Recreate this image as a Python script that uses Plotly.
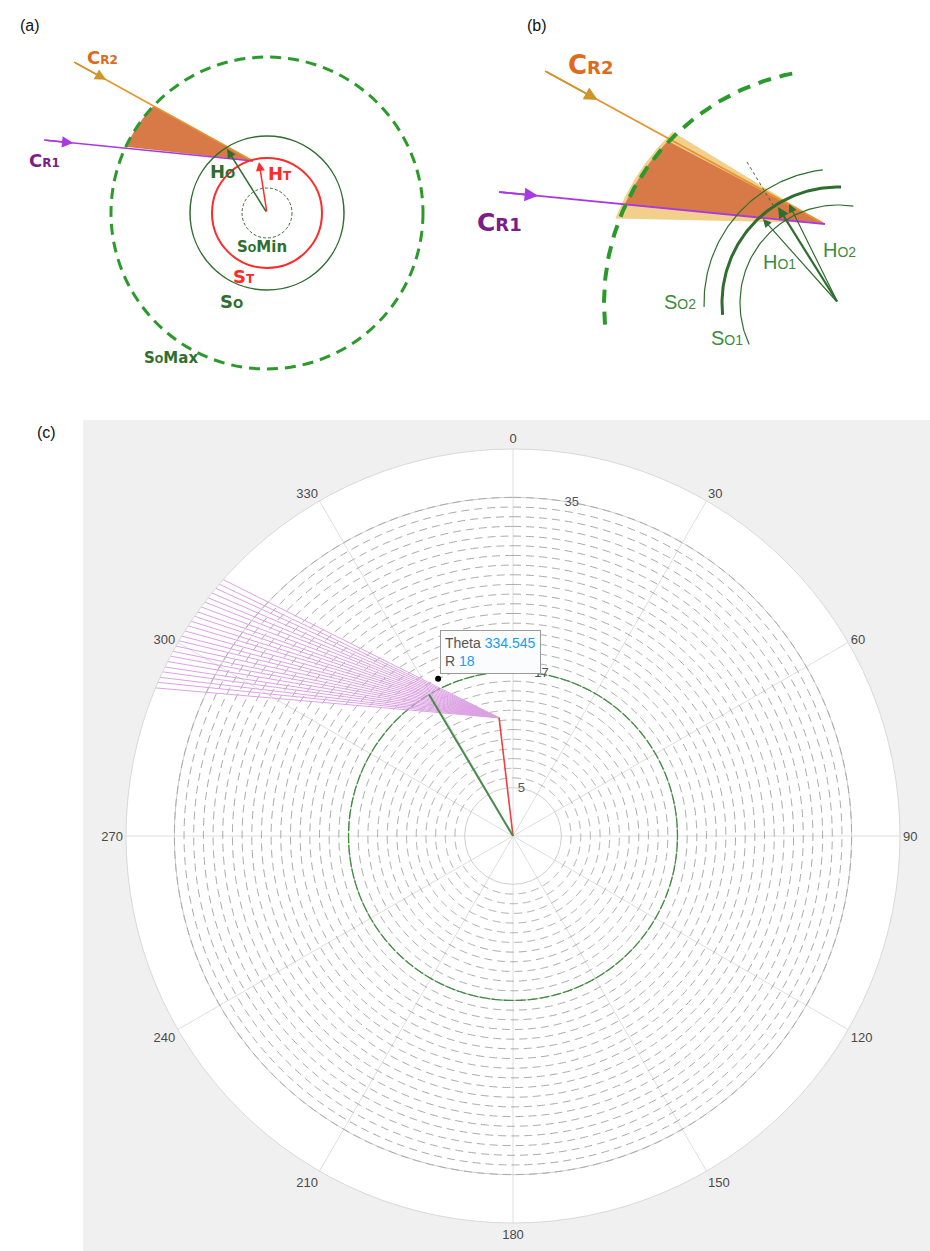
import numpy as np
import plotly.graph_objects as go

W, H = 930, 1251
FONT = "Liberation Sans"
DV = "DejaVu Sans"

# ---------------- panel (c) data ----------------
theta_ticks = [0, 30, 60, 90, 120, 150, 180, 210, 240, 270, 300, 330]
theta_labels = ["0", "30", "60", "90", "120", "150", "180", "210", "240", "270", "300", "330"]
r_ticks = [5, 17, 35]
r_tick_labels = ["5", "17", "35"]
r_label_theta = 10
r_max = 40
so_radii = [6, 7, 8, 9, 10, 11, 12, 13, 14, 15, 16, 17, 18, 19, 20, 21, 22, 23, 24, 25,
            26, 27, 28, 29, 30, 31, 32, 33, 34, 35]
so_selected = 17
ht_r, ht_theta = 12.3, 353.3
ho_r, ho_theta = 17.0, 329.3
tip_r, tip_theta = 18, 334.545
fan_end_theta = [292.5, 293.4, 294.2, 295.1, 295.9, 296.8, 297.7, 298.5, 299.4, 300.3,
                 301.1, 302.0, 302.9, 303.7, 304.6, 305.4, 306.3, 307.2, 308.0, 308.9,
                 309.8, 310.6, 311.5]

# ---------------- panel (a) data (pixel space) ----------------
a_center = [267, 213]
a_r_somax, a_r_so, a_r_st, a_r_somin = 156, 77, 55, 25
a_apex = [253, 161]
a_cr1_start = [44, 140]
a_cr2_start = [74, 62]
a_wedge_angles = [223.7, 205.1]     # screen angles on SoMax
a_ht_end = [259, 162]
a_ho_end = [227, 149]

# ---------------- panel (b) data (pixel space) ----------------
b_center = [838, 303]
b_r_somax = 234
b_somax_angles = [174.7, 260.3]
b_arcs = [[134, 178.3, 263.5, 1.2], [116, 174.1, 271.5, 3.0], [98, 155.0, 279.0, 1.2]]
b_apex = [823, 223]
b_cr1_start = [499, 192]
b_cr2_start = [545, 71]
b_dark_wedge = [235, 223.6, 204.7]
b_light_wedge = [238, 226.0, 200.8]
b_ho_ends = [[763, 219], [778, 207], [789, 204]]
b_dotted = [[747, 162], [773, 205]]

GREEN_D = "#2f6e2f"
GREEN_B = "#2a9a2a"
ORANGE_L = "#e8922e"
ORANGE_T = "#df6a1c"
PURPLE_L = "#a93ae0"
PURPLE_T = "#7b1d86"
RED = "#ff2a2a"
WEDGE = "#d87a48"
LIGHT = "#f2d08c"

fig = go.Figure()


def arc_pts(c, r, a0, a1, n=80):
    t = np.radians(np.linspace(a0, a1, n))
    return c[0] + r * np.cos(t), c[1] + r * np.sin(t)


def wedge(apex, c, r, a0, a1, color):
    xs, ys = arc_pts(c, r, a0, a1)
    fig.add_trace(go.Scatter(x=[apex[0], *xs, apex[0]], y=[apex[1], *ys, apex[1]],
                             mode="lines", fill="toself", fillcolor=color,
                             line=dict(width=0, color=color), hoverinfo="skip",
                             showlegend=False, xaxis="x", yaxis="y"))


def seg(p0, p1, color, width, dash="solid"):
    fig.add_trace(go.Scatter(x=[p0[0], p1[0]], y=[p0[1], p1[1]], mode="lines",
                             line=dict(color=color, width=width, dash=dash),
                             hoverinfo="skip", showlegend=False, xaxis="x", yaxis="y"))


annotations = []
shapes = []


def arrow(p0, p1, color, width, size=1.0, head=2):
    annotations.append(dict(x=p1[0], y=p1[1], ax=p0[0], ay=p0[1], xref="x", yref="y",
                            axref="x", ayref="y", showarrow=True, arrowhead=head,
                            arrowsize=size, arrowwidth=width, arrowcolor=color,
                            text="", standoff=0))


def label(x, y, big, small, rest, color, size, bold=True, xref="x", yref="y", fam=DV):
    s = f"{big}<span style='font-size:{int(size*0.72)}px'>{small}</span>{rest}"
    if bold:
        s = f"<b>{s}</b>"
    annotations.append(dict(x=x, y=y, xref=xref, yref=yref, text=s, showarrow=False,
                            font=dict(family=fam, size=size, color=color)))


def point_on(p0, p1, frac):
    return [p0[0] + (p1[0] - p0[0]) * frac, p0[1] + (p1[1] - p0[1]) * frac]


# ---------- panel (a) ----------
wedge(a_apex, a_center, a_r_somax, a_wedge_angles[0], a_wedge_angles[1], WEDGE)
seg(a_cr2_start, a_apex, ORANGE_L, 1.5)
seg(a_cr1_start, a_apex, PURPLE_L, 1.5)
arrow(a_cr1_start, point_on(a_cr1_start, a_apex, 0.14), PURPLE_L, 1.5, 1.5)
arrow(a_cr2_start, point_on(a_cr2_start, a_apex, 0.18), "#d0952a", 1.5, 1.5)

for r, col, w, dash in [(a_r_somax, GREEN_B, 3, "11px,7px"), (a_r_so, GREEN_D, 1.5, "solid"),
                        (a_r_st, RED, 2, "solid"), (a_r_somin, GREEN_D, 1, "3px,2px")]:
    shapes.append(dict(type="circle", xref="x", yref="y", x0=a_center[0] - r, x1=a_center[0] + r,
                       y0=a_center[1] - r, y1=a_center[1] + r, line=dict(color=col, width=w, dash=dash),
                       layer="above"))

arrow(a_center, a_ht_end, RED, 1.5, 1.2)
arrow(a_center, a_ho_end, GREEN_D, 1.5, 1.2)

label(102, 57, "C", "R2", "", ORANGE_T, 18)
label(44, 160, "C", "R1", "", PURPLE_T, 18)
label(222, 171, "H", "O", "", GREEN_D, 18)
label(280, 173, "H", "T", "", RED, 18)
label(262, 247, "S", "O", "Min", GREEN_D, 15)
label(244, 276, "S", "T", "", RED, 18)
label(231, 301, "S", "O", "", GREEN_D, 18)
label(171, 358, "S", "O", "Max", GREEN_D, 15)

# ---------- panel (b) ----------
wedge(b_apex, b_center, b_light_wedge[0], b_light_wedge[1], b_light_wedge[2], LIGHT)
wedge(b_apex, b_center, b_dark_wedge[0], b_dark_wedge[1], b_dark_wedge[2], WEDGE)
seg(b_cr2_start, b_apex, ORANGE_L, 1.8)
seg(b_cr1_start, [825, 224], PURPLE_L, 1.8)
arrow(b_cr1_start, point_on(b_cr1_start, [825, 224], 0.12), PURPLE_L, 1.8, 1.5)
arrow(b_cr2_start, point_on(b_cr2_start, b_apex, 0.19), "#d0952a", 1.8, 1.5)

for r, a0, a1, w in b_arcs:
    xs, ys = arc_pts(b_center, r, a0, a1)
    fig.add_trace(go.Scatter(x=xs, y=ys, mode="lines", line=dict(color=GREEN_D, width=w),
                             hoverinfo="skip", showlegend=False, xaxis="x", yaxis="y"))
xs, ys = arc_pts(b_center, b_r_somax, b_somax_angles[0], b_somax_angles[1], 120)
fig.add_trace(go.Scatter(x=xs, y=ys, mode="lines", line=dict(color=GREEN_B, width=4, dash="13px,9px"),
                         hoverinfo="skip", showlegend=False, xaxis="x", yaxis="y"))
seg(b_dotted[0], b_dotted[1], GREEN_D, 1, "dot")
arrow(b_center, b_ho_ends[0], GREEN_D, 1.2, 1.4)
arrow(b_center, b_ho_ends[1], GREEN_D, 2.2, 1.0)
arrow(b_center, b_ho_ends[2], GREEN_D, 1.2, 1.4)

label(590, 65, "C", "R2", "", ORANGE_T, 26)
label(499, 222, "C", "R1", "", PURPLE_T, 25)
label(779, 262, "H", "O1", "", "#3c8c3c", 20, bold=False, fam=FONT)
label(839, 250, "H", "O2", "", "#3c8c3c", 20, bold=False, fam=FONT)
label(680, 302, "S", "O2", "", "#3c8c3c", 20, bold=False, fam=FONT)
label(727, 338, "S", "O1", "", "#3c8c3c", 20, bold=False, fam=FONT)

# panel letters
for t, x, y in [("(a)", 18, 15), ("(b)", 537, 15), ("(c)", 35, 433)]:
    annotations.append(dict(x=x / W, y=1 - y / H, xref="paper", yref="paper", text=t,
                            showarrow=False, font=dict(family=FONT, size=16, color="#111")))

# ---------- panel (c) polar ----------
circ_theta = np.linspace(0, 360, 721)
for r in so_radii:
    fig.add_trace(go.Scatterpolar(r=[r] * len(circ_theta), theta=circ_theta, mode="lines",
                                  line=dict(color="#a8a8a8", width=1, dash="8px,5px"),
                                  hoverinfo="skip", showlegend=False))
fig.add_trace(go.Scatterpolar(r=[so_selected] * len(circ_theta), theta=circ_theta, mode="lines",
                              line=dict(color="#3f8f3f", width=1.3, dash="10px,2px"),
                              hoverinfo="skip", showlegend=False))
for th in fan_end_theta:
    fig.add_trace(go.Scatterpolar(r=[ht_r, r_max], theta=[ht_theta, th], mode="lines",
                                  line=dict(color="#dca2e4", width=1),
                                  hoverinfo="skip", showlegend=False))
fig.add_trace(go.Scatterpolar(r=[0, ht_r], theta=[ht_theta, ht_theta], mode="lines",
                              line=dict(color="#f04040", width=1.6), showlegend=False))
fig.add_trace(go.Scatterpolar(r=[0, ho_r], theta=[ho_theta, ho_theta], mode="lines",
                              line=dict(color="#4a8a4a", width=2), showlegend=False))
fig.add_trace(go.Scatterpolar(r=[tip_r], theta=[tip_theta], mode="markers",
                              marker=dict(color="black", size=6), showlegend=False))
# radial tick labels (MATLAB places them centred on the r-axis line)
fig.add_trace(go.Scatterpolar(r=r_ticks, theta=[r_label_theta] * len(r_ticks), mode="text",
                              text=r_tick_labels, textposition="middle center",
                              textfont=dict(family=FONT, size=13, color="#555"),
                              hoverinfo="skip", showlegend=False))

annotations.append(dict(
    x=440 / W, y=1 - 630 / H, xref="paper", yref="paper", xanchor="left", yanchor="top",
    showarrow=False, align="left",
    text=f"Theta <span style='color:#1a9cf0'>{tip_theta}</span><br>R <span style='color:#1a9cf0'>{tip_r}</span>",
    font=dict(family=FONT, size=14, color="#555"), bgcolor="#fbfcfe",
    bordercolor="#9a9a9a", borderwidth=1, borderpad=4))

shapes.insert(0, dict(type="rect", xref="paper", yref="paper", x0=83 / W, x1=1, y0=0,
                      y1=1 - 420 / H, fillcolor="#f0f0f0", line=dict(width=0), layer="below"))

fig.update_layout(
    width=W, height=H, margin=dict(l=0, r=0, t=0, b=0),
    paper_bgcolor="white", plot_bgcolor="white",
    font=dict(family=FONT),
    xaxis=dict(domain=[0, 1], range=[0, W], visible=False, fixedrange=True),
    yaxis=dict(domain=[1 - 400 / H, 1], range=[400, 0], visible=False, fixedrange=True),
    polar=dict(
        domain=dict(x=[126 / W, 900 / W], y=[1 - 1223 / H, 1 - 449 / H]),
        bgcolor="white",
        angularaxis=dict(rotation=90, direction="clockwise", tickmode="array",
                         tickvals=theta_ticks, ticktext=theta_labels, showgrid=True,
                         gridcolor="#dedede", gridwidth=1, showline=True, linecolor="#d9d9d9",
                         linewidth=1, ticks="", tickfont=dict(family=FONT, size=13, color="#4a4a4a")),
        radialaxis=dict(range=[0, r_max], tickmode="array", tickvals=r_ticks,
                        showticklabels=False, angle=80, showline=False, ticks="",
                        gridcolor="#cfcfcf", gridwidth=1),
    ),
    annotations=annotations, shapes=shapes, showlegend=False,
)

fig.write_html("out.html", config={"displayModeBar": False},
               post_script="document.body.style.margin='0px';")
